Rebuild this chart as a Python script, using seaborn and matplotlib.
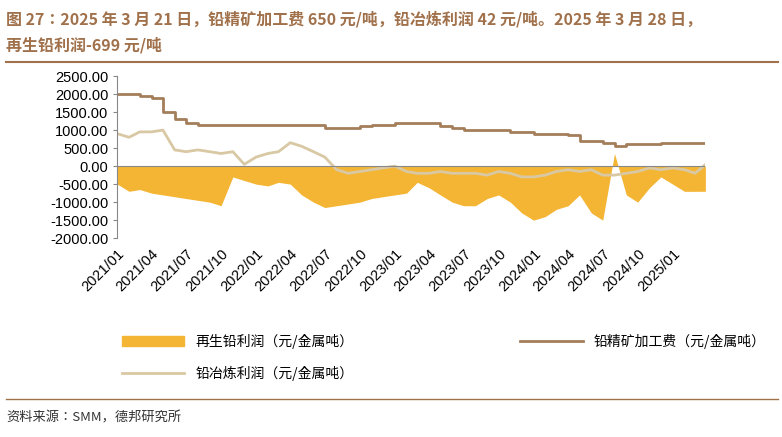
import matplotlib
matplotlib.use("Agg")
import matplotlib.pyplot as plt
import matplotlib.dates as mdates
import matplotlib.patches as mpatches
from matplotlib import font_manager
import pandas as pd
import seaborn as sns

# pick a simplified-chinese font file if one is available
cjk = None
for f in font_manager.fontManager.ttflist:
    name = f.fname.lower()
    if "cjk" in name and "sc" in name.split("/")[-1] and "bold" not in name:
        cjk = f.fname
        break
if cjk:
    font_manager.fontManager.addfont(cjk)
    cjk_name = font_manager.FontProperties(fname=cjk).get_name()
else:
    cjk_name = "Noto Sans CJK SC"
plt.rcParams["font.family"] = [cjk_name, "Noto Sans CJK SC", "DejaVu Sans"]
plt.rcParams["axes.unicode_minus"] = False

months = list(pd.date_range("2021-01-01", "2025-03-01", freq="MS")) + [pd.Timestamp("2025-03-28")]

tc_fee = [2000, 2000, 1950, 1900, 1500, 1300, 1200, 1150, 1150, 1150, 1150, 1150,
          1150, 1150, 1150, 1150, 1150, 1150, 1050, 1050, 1050, 1100, 1150, 1150,
          1200, 1200, 1200, 1200, 1100, 1050, 1000, 1000, 1000, 1000, 950, 950,
          900, 900, 900, 850, 700, 700, 650, 550, 600, 600, 600, 650,
          650, 650, 650, 650]
smelt_profit = [900, 800, 950, 950, 1000, 450, 400, 450, 400, 350, 400, 50,
                250, 350, 400, 650, 550, 400, 250, -100, -200, -150, -100, -50,
                0, -150, -200, -200, -150, -200, -200, -200, -250, -150, -200, -300,
                -300, -250, -150, -100, -150, -100, -250, -250, -200, -150, -50, -100,
                -50, -100, -200, 42]
recycled_profit = [-500, -700, -650, -750, -800, -850, -900, -950, -1000, -1100, -300, -400,
                   -500, -550, -450, -500, -800, -1000, -1150, -1100, -1050, -1000, -900, -850,
                   -800, -750, -450, -600, -800, -1000, -1100, -1100, -900, -800, -1000, -1300,
                   -1500, -1400, -1200, -1100, -800, -1300, -1500, 350, -800, -1000, -600, -300,
                   -500, -700, -700, -699]

ticks = pd.date_range("2021-01-01", "2025-01-01", freq="3MS")
yticks = [2500, 2000, 1500, 1000, 500, 0, -500, -1000, -1500, -2000]

df = pd.DataFrame({"date": months, "tc": tc_fee, "smelt": smelt_profit, "recycled": recycled_profit})

c_fill = "#F4B534"
c_tc = "#A47E5A"
c_smelt = "#D9C8A4"
c_title = "#A0714B"

fig = plt.figure(figsize=(7.82, 4.37), dpi=100)
ax = fig.add_axes([0.150, 0.455, 0.752, 0.371])

ax.fill_between(df["date"], df["recycled"], 0, color=c_fill, linewidth=0)
sns.lineplot(data=df, x="date", y="tc", ax=ax, color=c_tc, linewidth=2, drawstyle="steps-post")
sns.lineplot(data=df, x="date", y="smelt", ax=ax, color=c_smelt, linewidth=2)
ax.axhline(0, color="#888888", linewidth=0.8)

ax.set_ylim(-2000, 2500)
ax.set_yticks(yticks)
ax.set_yticklabels([f"{v:.2f}" for v in yticks], fontsize=10.5, fontfamily="Liberation Sans")
ax.set_xlim(months[0], months[-1])
ax.set_xticks(ticks)
ax.xaxis.set_major_formatter(mdates.DateFormatter("%Y/%m"))
plt.setp(ax.get_xticklabels(), rotation=45, ha="right", rotation_mode="anchor",
         fontsize=10.5, fontfamily="Liberation Sans")
ax.tick_params(axis="x", length=0, pad=6)
ax.tick_params(axis="y", length=3, color="#888888")
for s in ["top", "right", "bottom"]:
    ax.spines[s].set_visible(False)
ax.spines["left"].set_color("#888888")
ax.set_xlabel("")
ax.set_ylabel("")

handles = [
    mpatches.Patch(color=c_fill, label="再生铅利润（元/金属吨）"),
    plt.Line2D([], [], color=c_smelt, linewidth=2, label="铅冶炼利润（元/金属吨）"),
    plt.Line2D([], [], color=c_tc, linewidth=2, label="铅精矿加工费（元/金属吨）"),
]
fig.legend(handles=handles, ncol=2, frameon=False, loc="upper left",
           bbox_to_anchor=(0.14, 0.265), columnspacing=12, handlelength=4.5,
           fontsize=10, labelspacing=1.2)

fig.text(0.008, 0.975, "图 27：2025 年 3 月 21 日，铅精矿加工费 650 元/吨，铅冶炼利润 42 元/吨。2025 年 3 月 28 日，",
         fontsize=11.5, fontweight="bold", color=c_title, va="top")
fig.text(0.008, 0.915, "再生铅利润-699 元/吨", fontsize=11.5, fontweight="bold", color=c_title, va="top")
fig.add_artist(plt.Line2D([0.008, 0.995], [0.858, 0.858], color=c_title, linewidth=1.5))
fig.add_artist(plt.Line2D([0.008, 0.995], [0.088, 0.088], color=c_title, linewidth=1))
fig.text(0.008, 0.035, "资料来源：SMM，德邦研究所", fontsize=9.5, color="#333333")

fig.savefig("out.png", dpi=100)
